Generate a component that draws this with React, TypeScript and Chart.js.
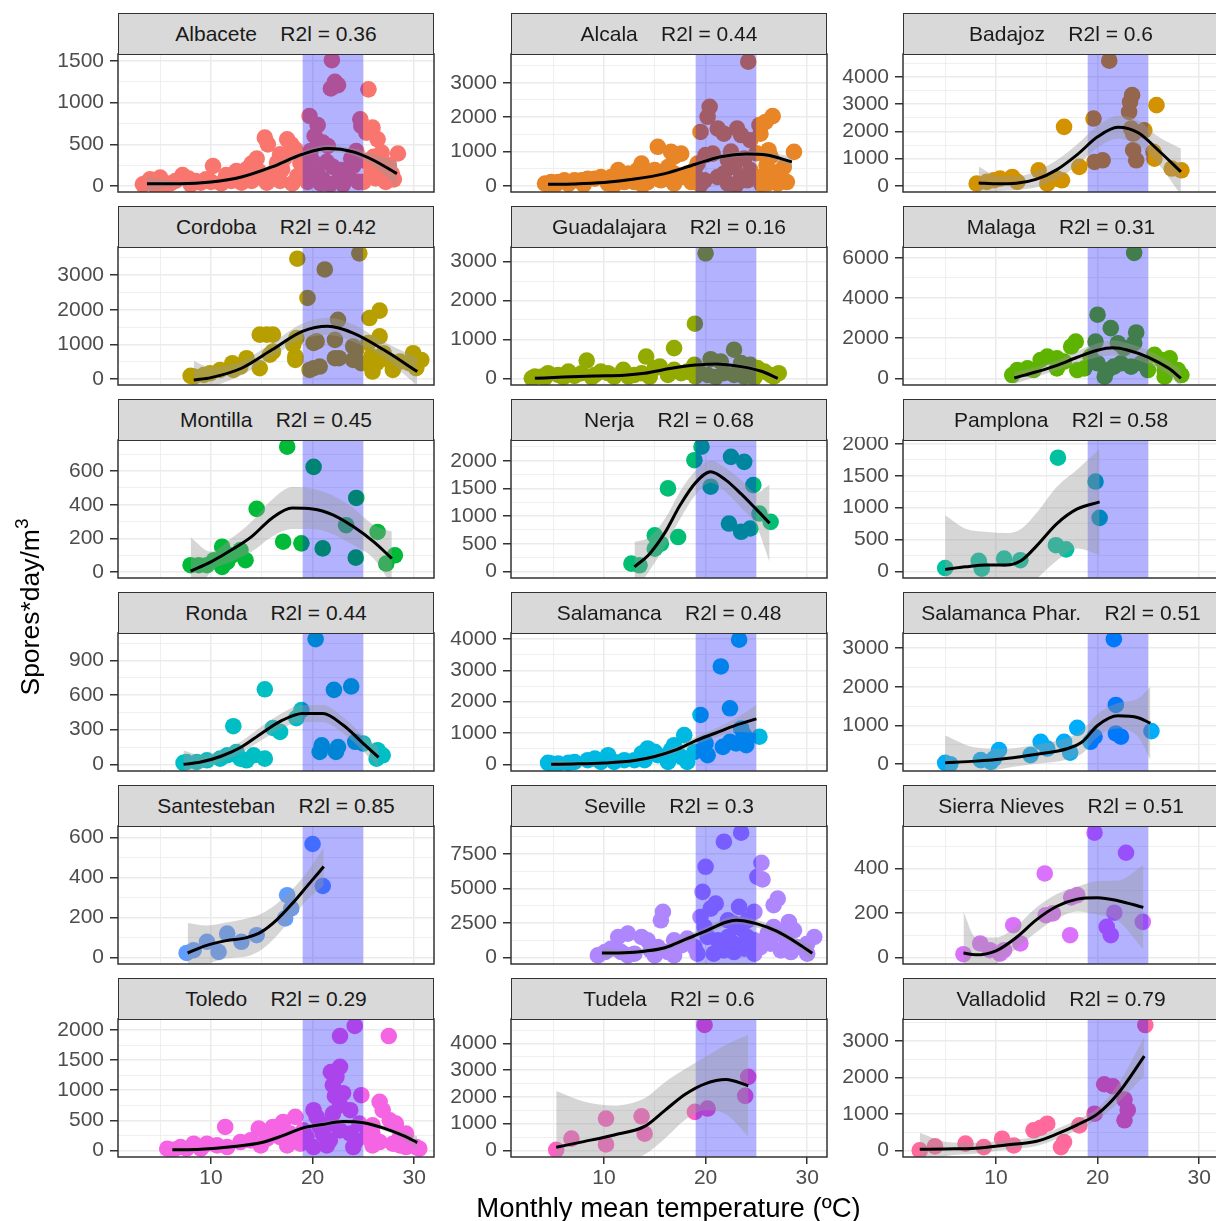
import React, { useEffect, useRef } from "react";
import { Chart, registerables } from "chart.js";

Chart.register(...registerables);

const FONT = '"Liberation Sans", Arial, Helvetica, sans-serif';
Chart.defaults.font.family = FONT;

type P = [number, number];
type F = [number, number, number, number]; // x, fit, lower, upper

// ---------------- data ----------------
const albacetePts: P[] = [[21.9,1510],[21.8,1170],[22.2,1250],[22.5,1210],[25.5,1160],[19.7,840],[20.5,730],[20.2,600],[21.0,520],[21.5,480],[24.7,800],[24.8,720],[25.3,640],[25.9,700],[26.4,560],[26.8,400],[15.3,580],[15.6,500],[17.5,560],[17.9,500],[18.3,440],[16.8,380],[14.5,330],[14.0,270],[13.5,200],[12.5,180],[10.2,240],[11.5,130],[7.2,130],[5.0,100],[4.0,80],[3.3,20],[3.7,40],[28.4,390],[27.5,250],[27.8,150],[28.0,80],[26.0,350],[26.6,340],[27.0,200],[21.4,290],[22.0,230],[22.8,190],[24.0,240],[23.5,140],[20.0,300],[19.3,200],[20.5,150],[21.0,80],[22.5,60],[23.2,100],[24.5,50],[19.5,50],[18.5,120],[17.0,200],[16.0,150],[15.0,100],[14.0,60],[13.0,40],[12.0,60],[11.0,30],[10.0,50],[9.0,40],[8.0,20],[6.0,30],[5.5,15],[4.5,10],[9.5,80],[8.5,60],[7.8,90],[6.5,60],[12.8,120],[11.8,90],[16.5,280],[17.2,330],[18.8,280],[19.8,420],[23.8,330],[24.3,420],[25.2,300],[25.8,180],[26.2,90],[25.0,50],[27.2,50],[23.0,20],[21.7,20],[20.8,30],[18.0,30],[16.8,60],[15.5,40],[14.7,180],[13.8,140]];
const albaceteFit: F[] = [[3.7,28,-52,108],[7,28,-2,58],[10,48,28,68],[13,108,86,130],[16,229,202,256],[19,381,346,416],[21.5,449,407,491],[24,409,365,453],[26,309,239,379],[28.3,148,-2,298]];

const alcalaPts: P[] = [[24.2,3612],[20.4,2300],[20.2,2010],[26.6,2030],[25.9,1860],[19.5,1570],[21.2,1670],[21.8,1520],[23.1,1670],[23.5,1480],[24.4,1330],[25.4,1520],[25.3,1770],[15.3,1140],[16.6,990],[17.6,940],[16.9,850],[28.7,990],[26.2,1040],[26.4,850],[20.7,940],[22.2,750],[22.8,550],[21.8,360],[21.2,260],[19.9,165],[23.5,260],[24.4,460],[24.1,165],[25.4,260],[26.7,360],[27.4,260],[27.1,70],[26.1,70],[19.2,650],[18.9,460],[18.2,360],[17.6,260],[16.9,360],[16.3,550],[13.7,650],[13.3,460],[11.4,460],[12.4,360],[10.7,260],[9.7,260],[9.1,210],[8.4,210],[7.8,165],[7.1,165],[6.1,165],[5.5,115],[4.8,115],[4.2,70],[4.5,40],[14.6,260],[14.3,115],[15.6,165],[13.0,115],[12.0,115],[10.4,70],[16.9,70],[18.6,115],[22.2,70],[28.0,115],[27.7,550],[15.0,460],[20.0,900],[22.5,1000],[23.8,800],[25.0,950],[26.0,600],[27.0,400],[5.2,30],[6.5,60],[8.0,40],[11.0,30],[13.8,30],[19.5,40],[23.0,30],[25.5,50]];
const alcalaFit: F[] = [[4.5,50,-10,110],[7,60,30,90],[10,100,70,130],[13,200,165,235],[16,360,320,400],[19,630,575,685],[21.5,850,785,915],[24,930,860,1000],[26,900,820,980],[28.5,700,550,850]];

const badajozPts: P[] = [[21.15,4590],[23.4,3330],[23.2,3080],[23.1,2715],[25.8,2960],[19.6,2470],[16.7,2165],[23.3,2100],[24.6,2040],[23.5,1920],[23.5,1310],[23.8,940],[25.5,1250],[25.6,1000],[19.7,880],[20.5,940],[18.2,700],[27.3,640],[28.25,575],[14.2,575],[16.5,210],[15.05,85],[11.6,330],[12.1,150],[10.4,270],[9.8,210],[9.1,150],[8.1,85],[16.0,270]];
const badajozFit: F[] = [[8.3,110,-490,710],[10,80,-220,380],[12,100,-150,350],[14,250,-50,550],[16,600,250,950],[18,1150,770,1530],[20,1800,1400,2200],[22,2150,1730,2570],[24,1950,1500,2400],[26,1300,800,1800],[28.2,520,-330,1370]];

const cordobaPts: P[] = [[18.5,3475],[21.2,3165],[24.6,3630],[19.5,2340],[26.6,1975],[22.5,1710],[25.6,1760],[25.5,1040],[26.6,1230],[16.1,1280],[15.5,1280],[14.8,1280],[18.4,1180],[18.1,990],[22.2,1130],[24.0,940],[24.3,840],[20.4,1085],[20.1,1040],[16.1,795],[15.8,700],[13.5,600],[12.9,360],[12.1,455],[12.2,260],[10.9,260],[9.9,165],[9.3,115],[8.3,70],[8.0,90],[14.8,310],[18.3,650],[18.3,550],[20.1,310],[20.7,360],[19.7,260],[22.6,600],[24.0,550],[24.8,455],[25.9,215],[26.3,455],[27.7,500],[28.6,500],[29.9,745],[30.7,550],[29.5,455],[30.2,310],[27.9,260],[25.8,650],[27.0,745],[22.2,600]];
const cordobaFit: F[] = [[8.3,-30,-580,520],[10,40,-260,340],[13,310,110,510],[16,842,642,1042],[19,1375,1145,1605],[21.5,1520,1270,1770],[24,1326,1076,1576],[27,842,612,1072],[30.3,213,-187,613]];

const guadalajaraPts: P[] = [[20.0,3215],[18.95,1405],[16.9,775],[14.15,560],[22.8,735],[8.3,457],[11.9,215],[15.5,300],[15.0,260],[6.5,170],[4.5,130],[3.2,45],[2.9,0],[18.9,345],[20.5,490],[21.5,430],[23.5,390],[24.4,345],[25.1,260],[25.8,170],[27.2,130],[26.4,85],[9.7,170],[10.4,130],[9.1,85],[13.7,130],[13.0,85],[16.9,215],[17.6,130],[19.5,130],[20.2,85],[21.8,130],[22.8,85],[3.9,45],[5.5,85],[7.1,60],[7.8,130],[12.4,45],[16.3,85],[18.2,170],[23.8,45],[26.7,45],[4.2,20],[6.0,30],[8.8,30],[11.0,40],[14.5,40],[19.0,50],[21.0,30],[24.8,20]];
const guadalajaraFit: F[] = [[3.2,0,-50,50],[6,30,-5,65],[9,60,30,90],[12,80,50,110],[14,130,95,165],[16.5,250,210,290],[19,340,295,385],[21,370,320,420],[23.5,300,250,350],[25.5,180,120,240],[27.1,0,-80,80]];

const malagaPts: P[] = [[23.6,6250],[20.0,3170],[21.3,2500],[23.8,2285],[17.85,1835],[17.4,1585],[19.8,1835],[22.0,1750],[22.6,1500],[23.6,1750],[15.05,1085],[14.4,915],[16.0,1000],[16.7,835],[25.6,1170],[27.1,1000],[26.3,915],[13.1,500],[13.7,415],[12.1,415],[11.6,165],[19.3,1085],[20.0,750],[21.0,415],[21.6,585],[22.3,750],[23.3,585],[24.3,750],[24.95,415],[20.7,85],[18.7,500],[18.0,415],[16.0,500],[28.25,165],[27.9,415],[26.6,415],[26.6,85],[26.9,665]];
const malagaFit: F[] = [[11.8,20,-280,320],[14,330,80,580],[16,650,400,900],[18,1050,750,1350],[20,1400,1050,1750],[21.5,1520,1140,1900],[23,1400,1050,1750],[25,1050,700,1400],[27,500,150,850],[28.2,0,-450,450]];

const montillaPts: P[] = [[17.5,745],[20.1,625],[24.3,440],[14.5,375],[26.4,238],[23.3,278],[17.1,180],[18.9,170],[21.0,140],[24.25,85],[28.1,99],[27.25,50],[11.1,150],[10.3,70],[11.1,30],[12.9,130],[13.4,70],[8.0,40],[8.8,40],[9.6,40],[12.06,99],[11.6,60]];
const montillaFit: F[] = [[8,5,-195,205],[10,60,0,120],[12,130,60,200],[14,210,120,300],[16,320,210,430],[18,380,255,505],[20,375,255,495],[22,340,225,455],[24,270,160,380],[26,180,80,280],[27.8,80,-80,240]];

const nerjaPts: P[] = [[19.6,2255],[18.9,2010],[22.5,2070],[23.8,1980],[16.3,1500],[20.5,1530],[24.7,1560],[25.3,1045],[26.4,895],[22.3,865],[23.5,715],[24.4,775],[15.0,650],[17.3,620],[15.6,500],[12.7,140],[13.5,110],[15.0,410]];
const nerjaFit: F[] = [[13,80,-370,530],[14.5,320,20,620],[16,700,450,950],[17.5,1200,950,1450],[19,1600,1380,1820],[20.5,1800,1600,2000],[22,1650,1430,1870],[23.5,1400,1150,1650],[25,1120,820,1420],[26.3,870,170,1570]];

const pamplonaPts: P[] = [[16.1,1785],[19.8,1410],[20.2,840],[15.9,410],[16.9,345],[12.4,175],[10.8,200],[8.3,165],[8.6,42],[5.0,52]];
const pamplonaFit: F[] = [[5,30,-820,880],[7,70,-530,670],[9,100,-420,620],[11,100,-400,600],[12.5,170,-330,670],[14,400,-120,920],[16,750,170,1330],[18,980,360,1600],[20.2,1090,260,1920]];

const rondaPts: P[] = [[20.3,1085],[15.3,650],[23.8,675],[22.1,645],[12.2,330],[16.1,315],[18.9,470],[18.4,400],[24.2,195],[25.0,180],[20.9,165],[20.7,107],[22.5,150],[22.3,107],[26.4,122],[26.9,78],[26.3,49],[15.3,49],[13.5,35],[12.5,107],[11.6,78],[10.9,49],[9.6,35],[8.6,20],[7.6,20],[7.3,12],[16.8,281],[14.2,78],[12.9,49]];
const rondaFit: F[] = [[7.3,0,-120,120],[9,20,-40,80],[11,70,20,120],[13,150,100,200],[15,270,210,330],[17,380,315,445],[19,440,365,515],[21,440,365,515],[23,340,270,410],[25,180,110,250],[26.5,60,-30,150]];

const salamancaPts: P[] = [[23.3,3980],[21.5,3125],[22.4,1790],[19.5,1575],[25.3,880],[23.5,1145],[23.8,930],[17.9,930],[20.2,290],[20.0,665],[21.7,555],[22.4,715],[23.0,665],[24.0,610],[16.9,610],[16.6,450],[15.3,290],[14.3,505],[13.7,340],[15.0,395],[10.4,290],[9.1,180],[8.4,130],[12.0,130],[11.0,75],[9.7,75],[7.1,75],[6.5,45],[5.5,20],[4.8,20],[4.5,45],[18.2,75],[17.6,235],[18.9,395],[13.0,130],[14.0,130],[16.3,75]];
const salamancaFit: F[] = [[4.8,0,-120,120],[7,10,-70,90],[10,40,-20,100],[13,120,60,180],[15,250,180,320],[17,450,350,550],[19,750,630,870],[21,1000,850,1150],[23,1250,1030,1470],[25,1450,1000,1900]];

const salPharPts: P[] = [[21.6,3230],[21.8,1530],[18.0,940],[19.3,580],[19.7,710],[21.8,795],[22.3,710],[25.3,855],[16.7,580],[17.3,300],[14.4,580],[15.05,405],[13.4,235],[10.3,365],[9.8,145],[8.5,105],[5.0,35],[5.5,0],[9.5,60]];
const salPharFit: F[] = [[5,40,-660,740],[8,80,-270,430],[11,150,-100,400],[14,260,10,510],[17,400,120,680],[18.5,580,280,880],[20,1000,700,1300],[22,1250,920,1580],[24,1200,700,1700],[25.2,1060,110,2010]];

const santestebanPts: P[] = [[20.0,568],[21.0,358],[17.5,312],[17.9,246],[17.3,196],[14.5,112],[13.0,79],[11.6,120],[9.6,79],[10.75,28],[7.6,23],[8.3,37]];
const santestebanFit: F[] = [[7.7,23,-127,173],[9.5,60,-40,160],[11.5,85,-5,175],[13.5,100,5,195],[15,130,40,220],[16.5,190,110,270],[18,270,200,340],[19.5,360,290,430],[21.1,455,360,550]];

const sevillePts: P[] = [[23.5,9053],[21.8,8397],[20.0,6577],[25.5,6868],[25.6,5655],[25.1,5849],[19.7,4757],[27.1,4272],[26.7,3786],[23.3,3665],[24.8,3301],[21.0,3907],[20.5,3543],[15.8,3301],[15.6,2694],[28.2,2573],[28.7,1966],[30.7,1480],[30.0,995],[12.35,1723],[11.4,1480],[13.7,1480],[14.3,1238],[19.5,2937],[19.9,2209],[20.2,1480],[21.2,1238],[22.2,1480],[22.8,995],[24.1,1480],[24.8,1238],[23.5,2087],[22.8,2451],[22.2,2694],[24.1,2694],[16.9,1238],[17.6,874],[18.2,1359],[18.9,752],[19.2,267],[27.4,1723],[28.0,1238],[26.7,2209],[26.1,1723],[26.4,995],[25.4,752],[29.0,752],[28.4,388],[27.4,510],[30.0,267],[9.4,146],[10.1,388],[10.7,631],[11.7,388],[13.0,267],[14.6,510],[15.3,752],[16.3,388],[16.9,146],[15.0,146],[12.35,146],[20.8,267],[21.8,510],[22.8,388],[23.8,631],[24.8,267],[22.5,752]];
const sevilleFit: F[] = [[9.8,310,-90,710],[12,330,110,550],[14,450,230,670],[16,700,480,920],[18,1300,1050,1550],[20,1900,1620,2180],[22,2550,2250,2850],[23,2700,2400,3000],[25,2450,2170,2730],[27,1900,1620,2180],[29,1050,720,1380],[30.5,300,-300,900]];

const sierraPts: P[] = [[19.7,560],[22.8,470],[14.8,377],[18.0,280],[17.4,270],[21.65,201],[20.9,138],[21.3,100],[24.45,160],[17.3,100],[14.9,190],[15.6,198],[11.7,145],[12.4,63],[8.45,63],[6.8,15],[9.4,33],[10.4,18],[10.8,33]];
const sierraFit: F[] = [[6.8,20,-165,205],[8,12,-68,92],[10,30,-30,90],[12,90,40,140],[14,170,115,225],[16,230,175,285],[18,262,207,317],[20,268,193,343],[22,255,165,345],[24.5,225,35,415]];

const toledoPts: P[] = [[24.15,2067],[22.7,1900],[27.5,1900],[22.7,1389],[22.35,1222],[22.0,1083],[24.8,917],[26.6,806],[26.9,667],[27.6,500],[28.2,444],[20.1,667],[20.4,556],[18.3,556],[17.1,472],[11.4,389],[14.7,361],[16.1,389],[22.7,750],[23.7,667],[22.0,611],[29.2,56],[30.2,56],[30.5,28],[28.6,222],[29.2,278],[5.7,28],[7.0,56],[8.3,111],[9.6,111],[10.6,83],[12.9,139],[13.9,167],[15.5,194],[16.8,222],[17.8,278],[19.1,333],[19.4,222],[21.0,278],[21.7,167],[22.7,333],[23.7,278],[24.3,167],[25.3,222],[25.9,278],[26.6,139],[27.9,111],[25.9,83],[24.0,56],[21.4,83],[20.1,56],[18.8,111],[17.5,83],[14.9,83],[11.6,56],[9.0,28],[7.6,28],[6.3,10],[25.9,417],[24.6,444],[21.7,444],[20.7,389],[28.6,83],[22.2,900],[23.0,950],[21.8,1300]];
const toledoFit: F[] = [[6.2,10,-30,50],[9,20,-5,45],[12,60,35,85],[15,130,100,160],[17,240,210,270],[19,370,335,405],[21,430,390,470],[23,480,440,520],[25,460,420,500],[27,370,330,410],[29,240,185,295],[30.3,130,20,240]];

const tudelaPts: P[] = [[19.9,4688],[24.2,2750],[23.9,2040],[18.95,1440],[20.2,1565],[10.2,1190],[13.7,1275],[14.0,625],[10.2,225],[6.8,440],[5.3,25]];
const tudelaFit: F[] = [[5.3,120,-1980,2220],[8,330,-1170,1830],[11,580,-520,1680],[14,900,-150,1950],[16,1500,450,2550],[18,2100,1150,3050],[20,2500,1500,3500],[22,2650,1350,3950],[24.2,2420,520,4320]];

const valladolidPts: P[] = [[24.7,3430],[20.65,1810],[21.5,1755],[22.65,1390],[22.97,1100],[22.65,825],[19.7,1005],[18.2,685],[15.05,730],[13.7,550],[14.4,620],[16.7,230],[16.4,90],[10.6,320],[11.75,135],[7.0,185],[8.8,90],[2.5,0],[4.0,110]];
const valladolidFit: F[] = [[2.5,30,-420,480],[5,40,-160,240],[8,60,-90,210],[11,150,20,280],[14,250,120,380],[16,450,310,590],[18,700,560,840],[20,1000,840,1160],[22,1550,1300,1800],[24.6,2580,2050,3110]];

const CITIES = ["Albacete","Alcala","Badajoz","Cordoba","Guadalajara","Malaga","Montilla","Nerja","Pamplona","Ronda","Salamanca","Salamanca Phar.","Santesteban","Seville","Sierra Nieves","Toledo","Tudela","Valladolid"];
const R2L = ["0.36","0.44","0.6","0.42","0.16","0.31","0.45","0.68","0.58","0.44","0.48","0.51","0.85","0.3","0.51","0.29","0.6","0.79"];
const POINTS: P[][] = [albacetePts, alcalaPts, badajozPts, cordobaPts, guadalajaraPts, malagaPts, montillaPts, nerjaPts, pamplonaPts, rondaPts, salamancaPts, salPharPts, santestebanPts, sevillePts, sierraPts, toledoPts, tudelaPts, valladolidPts];
const FITS: F[][] = [albaceteFit, alcalaFit, badajozFit, cordobaFit, guadalajaraFit, malagaFit, montillaFit, nerjaFit, pamplonaFit, rondaFit, salamancaFit, salPharFit, santestebanFit, sevilleFit, sierraFit, toledoFit, tudelaFit, valladolidFit];
const Y_TICKS: number[][] = [
  [0,500,1000,1500],[0,1000,2000,3000],[0,1000,2000,3000,4000],
  [0,1000,2000,3000],[0,1000,2000,3000],[0,2000,4000,6000],
  [0,200,400,600],[0,500,1000,1500,2000],[0,500,1000,1500,2000],
  [0,300,600,900],[0,1000,2000,3000,4000],[0,1000,2000,3000],
  [0,200,400,600],[0,2500,5000,7500],[0,200,400],
  [0,500,1000,1500,2000],[0,1000,2000,3000,4000],[0,1000,2000,3000],
];
const Y_LIMITS: [number, number][] = [
  [-72,1584],[-175,3836],[-220,4833],
  [-174,3813],[-173,3378],[-330,6540],
  [-36,785],[-120,2375],[-105,2063],
  [-58,1138],[-215,4195],[-175,3389],
  [-32,658],[-480,9537],[-29,590],
  [-110,2183],[-245,4912],[-180,3595],
];
const X_TICKS = [10, 20, 30];
const X_LIMITS: [number, number] = [0.85, 31.95];
const BAND: [number, number] = [19, 25];

// ---------------- layout ----------------
const COL_LEFT = [118, 511, 903];
const PANEL_W = 316;
const STRIP_TOP = [13, 206, 399, 592, 785, 978];
const STRIP_H = 41;
const PLOT_H = 138;
const AXIS_W = 90;
const PAD = 3;
const BOTTOM_AXIS_H = 40;

function hcl(h: number, c = 100, l = 65): string {
  const hr = (h * Math.PI) / 180;
  const u = c * Math.cos(hr), v = c * Math.sin(hr);
  const Xn = 95.047, Yn = 100, Zn = 108.883;
  const den = Xn + 15 * Yn + 3 * Zn;
  const un = (4 * Xn) / den, vn = (9 * Yn) / den;
  const Y = Yn * Math.pow((l + 16) / 116, 3);
  const up = u / (13 * l) + un, vp = v / (13 * l) + vn;
  const X = (Y * 9 * up) / (4 * vp);
  const Z = (Y * (12 - 3 * up - 20 * vp)) / (4 * vp);
  const x = X / 100, y = Y / 100, z = Z / 100;
  const lin = [
    3.2404542 * x - 1.5371385 * y - 0.4985314 * z,
    -0.969266 * x + 1.8760108 * y + 0.041556 * z,
    0.0556434 * x - 0.2040259 * y + 1.0572252 * z,
  ];
  const hex = lin.map((t) => {
    const g = t <= 0.0031308 ? 12.92 * t : 1.055 * Math.pow(Math.max(t, 0), 1 / 2.4) - 0.055;
    const n = Math.round(Math.min(1, Math.max(0, g)) * 255);
    return n.toString(16).padStart(2, "0");
  });
  return "#" + hex.join("");
}

const COLORS = CITIES.map((_, i) => hcl(15 + (360 * i) / CITIES.length));

type T = { value: number; minor: boolean };
function buildTicks(major: number[], lo: number, hi: number): T[] {
  const step = major[1] - major[0];
  const out: T[] = major.filter((v) => v >= lo && v <= hi).map((v) => ({ value: v, minor: false }));
  const cands = [major[0] - step / 2, ...major.map((v) => v + step / 2)];
  cands.forEach((v) => { if (v > lo && v < hi) out.push({ value: v, minor: true }); });
  return out.sort((a, b) => a.value - b.value);
}

const borderPlugin = {
  id: "panelBorder",
  afterDraw(chart: any) {
    const { ctx, chartArea: a } = chart;
    ctx.save();
    ctx.strokeStyle = "#333333";
    ctx.lineWidth = 1.5;
    ctx.strokeRect(a.left, a.top, a.right - a.left, a.bottom - a.top);
    ctx.restore();
  },
};

function Panel({ idx }: { idx: number }) {
  const ref = useRef<HTMLCanvasElement>(null);
  const row = Math.floor(idx / 3), col = idx % 3;
  const isBottom = row === 5;
  const left = COL_LEFT[col] - AXIS_W;
  const top = STRIP_TOP[row] + STRIP_H - PAD;
  const w = AXIS_W + PANEL_W + PAD;
  const h = PAD + PLOT_H + (isBottom ? BOTTOM_AXIS_H : PAD);

  useEffect(() => {
    const [yLo, yHi] = Y_LIMITS[idx];
    const yT = buildTicks(Y_TICKS[idx], yLo, yHi);
    const xT = buildTicks(X_TICKS, X_LIMITS[0], X_LIMITS[1]);
    const fit = FITS[idx];
    const color = COLORS[idx];
    const lw = (c: any) => (c.tick && c.tick.minor ? 0.8 : 1.5);
    const tc = (c: any) => (c.tick && c.tick.minor ? "rgba(0,0,0,0)" : "#333333");
    const chart = new Chart(ref.current as HTMLCanvasElement, {
      type: "scatter",
      data: {
        datasets: [
          {
            type: "line",
            data: fit.map((f) => ({ x: f[0], y: f[1] })),
            borderColor: "#000000",
            borderWidth: 3,
            pointRadius: 0,
            cubicInterpolationMode: "monotone",
            fill: false,
            showLine: true,
            order: 0,
          },
          {
            type: "line",
            data: fit.map((f) => ({ x: f[0], y: f[2] })),
            borderColor: "rgba(0,0,0,0)",
            borderWidth: 0,
            pointRadius: 0,
            cubicInterpolationMode: "monotone",
            fill: false,
            showLine: true,
            order: 1,
          },
          {
            type: "line",
            data: fit.map((f) => ({ x: f[0], y: f[3] })),
            borderColor: "rgba(0,0,0,0)",
            backgroundColor: "rgba(153,153,153,0.4)",
            borderWidth: 0,
            pointRadius: 0,
            cubicInterpolationMode: "monotone",
            fill: "-1",
            showLine: true,
            order: 1,
          },
          {
            type: "line",
            data: [{ x: BAND[0], y: yHi }, { x: BAND[1], y: yHi }],
            borderColor: "rgba(0,0,0,0)",
            backgroundColor: "rgba(0,0,255,0.3)",
            borderWidth: 0,
            pointRadius: 0,
            fill: { value: yLo },
            showLine: true,
            order: 2,
          },
          {
            type: "scatter",
            data: POINTS[idx].map((p) => ({ x: p[0], y: p[1] })),
            backgroundColor: color,
            borderColor: color,
            pointRadius: 8.3,
            pointBorderWidth: 0,
            pointHoverRadius: 8.3,
            order: 3,
          },
        ] as any,
      },
      options: {
        animation: false,
        responsive: false,
        devicePixelRatio: 1,
        events: [],
        layout: { autoPadding: false, padding: { top: PAD, left: 0, right: PAD, bottom: isBottom ? 0 : PAD } } as any,
        plugins: { legend: { display: false }, tooltip: { enabled: false }, title: { display: false } },
        scales: {
          x: {
            type: "linear",
            min: X_LIMITS[0],
            max: X_LIMITS[1],
            afterBuildTicks: (s: any) => { s.ticks = xT.map((t) => ({ ...t })); },
            afterFit: (s: any) => { s.height = isBottom ? BOTTOM_AXIS_H : 0; s.paddingLeft = 0; s.paddingRight = 0; },
            border: { display: false },
            grid: { color: "#EBEBEB", lineWidth: lw, tickColor: tc, tickWidth: 1.5, tickLength: 7, drawTicks: isBottom },
            ticks: {
              display: isBottom,
              autoSkip: false,
              maxRotation: 0,
              padding: 2,
              color: "#4D4D4D",
              font: { size: 21, family: FONT },
              callback: (v: any, i: number, ts: any[]) => (ts[i] && ts[i].minor ? "" : String(v)),
            },
          },
          y: {
            type: "linear",
            min: yLo,
            max: yHi,
            afterBuildTicks: (s: any) => { s.ticks = yT.map((t) => ({ ...t })); },
            afterFit: (s: any) => { s.width = AXIS_W; s.paddingTop = 0; s.paddingBottom = 0; },
            border: { display: false },
            grid: { color: "#EBEBEB", lineWidth: lw, tickColor: tc, tickWidth: 1.5, tickLength: 8, drawTicks: true },
            ticks: {
              autoSkip: false,
              padding: 6,
              color: "#4D4D4D",
              font: { size: 21, family: FONT },
              callback: (v: any, i: number, ts: any[]) => (ts[i] && ts[i].minor ? "" : String(v)),
            },
          },
        },
      } as any,
      plugins: [borderPlugin],
    });
    return () => chart.destroy();
  }, [idx]);

  return (
    <canvas
      ref={ref}
      width={w}
      height={h}
      style={{ position: "absolute", left, top, width: w, height: h }}
    />
  );
}

function Strip({ idx }: { idx: number }) {
  const row = Math.floor(idx / 3), col = idx % 3;
  return (
    <div
      style={{
        position: "absolute",
        left: COL_LEFT[col],
        top: STRIP_TOP[row],
        width: PANEL_W,
        height: STRIP_H + 1,
        boxSizing: "border-box",
        border: "1.5px solid #333333",
        background: "#D9D9D9",
        display: "flex",
        alignItems: "center",
        justifyContent: "center",
        fontFamily: FONT,
        fontSize: 21,
        color: "#1A1A1A",
        whiteSpace: "pre",
      }}
    >
      {`${CITIES[idx]}    R2l = ${R2L[idx]}`}
    </div>
  );
}

export default function App() {
  return (
    <div
      style={{
        position: "absolute",
        left: 0,
        top: 0,
        width: 1216,
        height: 1221,
        overflow: "hidden",
        background: "#FFFFFF",
        fontFamily: FONT,
      }}
    >
      {CITIES.map((_, i) => (
        <Panel key={"p" + i} idx={i} />
      ))}
      {CITIES.map((_, i) => (
        <Strip key={"s" + i} idx={i} />
      ))}
      <div
        style={{
          position: "absolute",
          left: 30 - 130,
          top: 607 - 15,
          width: 260,
          height: 30,
          lineHeight: "30px",
          fontSize: 26.5,
          textAlign: "center",
          transform: "rotate(-90deg)",
          color: "#000000",
          whiteSpace: "nowrap",
        }}
      >
        Spores*day/m
        <span style={{ fontSize: "0.72em", position: "relative", top: "-0.6em" }}>3</span>
      </div>
      <div
        style={{
          position: "absolute",
          left: 118,
          top: 1193,
          width: 1101,
          height: 30,
          lineHeight: "30px",
          fontSize: 27.5,
          textAlign: "center",
          color: "#000000",
          whiteSpace: "nowrap",
        }}
      >
        Monthly mean temperature (ºC)
      </div>
    </div>
  );
}
